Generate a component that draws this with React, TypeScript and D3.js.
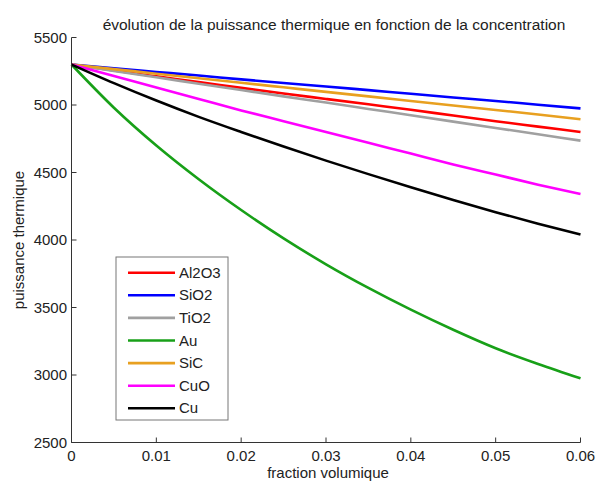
import React from "react";
import * as d3 from "d3";

const fractions = [0, 0.005, 0.01, 0.015, 0.02, 0.025, 0.03, 0.035, 0.04, 0.045, 0.05, 0.055, 0.06];

const al2o3 = [5300, 5255, 5212, 5170, 5127, 5085, 5045, 5005, 4965, 4922, 4880, 4840, 4800];
const sio2 = [5300, 5272, 5245, 5218, 5190, 5163, 5137, 5110, 5083, 5056, 5030, 5002, 4975];
const tio2 = [5300, 5252, 5205, 5158, 5111, 5064, 5018, 4971, 4924, 4877, 4830, 4783, 4736];
const au = [5300, 4980, 4700, 4450, 4222, 4012, 3820, 3645, 3484, 3335, 3198, 3082, 2975];
const sic = [5300, 5266, 5232, 5198, 5165, 5131, 5097, 5064, 5030, 4996, 4963, 4930, 4895];
const cuo = [5300, 5215, 5130, 5045, 4960, 4880, 4800, 4720, 4640, 4560, 4485, 4410, 4340];
const cu = [5300, 5162, 5033, 4912, 4800, 4692, 4588, 4488, 4390, 4296, 4206, 4121, 4040];

const seriesNames = ["Al2O3", "SiO2", "TiO2", "Au", "SiC", "CuO", "Cu"];
const seriesValues = [al2o3, sio2, tio2, au, sic, cuo, cu];
const seriesColors = ["#ff0000", "#0000ff", "#a0a0a0", "#18a018", "#e8a020", "#ff00ff", "#000000"];

const xTicks = [0, 0.01, 0.02, 0.03, 0.04, 0.05, 0.06];
const xTickLabels = ["0", "0.01", "0.02", "0.03", "0.04", "0.05", "0.06"];
const yTicks = [2500, 3000, 3500, 4000, 4500, 5000, 5500];

const title = "évolution de la puissance thermique en fonction de la concentration";
const xLabel = "fraction volumique";
const yLabel = "puissance thermique";

const W = 606;
const H = 485;
const left = 71.5;
const right = 580.5;
const top = 37.5;
const bottom = 442.5;
const FONT = "'Liberation Sans', Arial, Helvetica, sans-serif";

export default function App() {
  const x = d3.scaleLinear().domain([0, 0.06]).range([left, right]);
  const y = d3.scaleLinear().domain([2500, 5500]).range([bottom, top]);
  const line = d3
    .line<number>()
    .x((_, i) => x(fractions[i]))
    .y((d) => y(d))
    .curve(d3.curveMonotoneX);

  const legX = 116;
  const legY = 257;
  const legW = 112;
  const legH = 163;
  const rowH = 22.6;

  return (
    <svg
      width={W}
      height={H}
      style={{ position: "absolute", left: 0, top: 0, background: "#fff" }}
      fontFamily={FONT}
    >
      <rect x={0} y={0} width={W} height={H} fill="#fff" />
      <text x={334} y={30} textAnchor="middle" fontSize={15.5} fill="#222">
        {title}
      </text>

      {/* series */}
      {seriesValues.map((vals, i) => (
        <path
          key={seriesNames[i]}
          d={line(vals) || ""}
          fill="none"
          stroke={seriesColors[i]}
          strokeWidth={2.6}
          strokeLinejoin="round"
        />
      ))}

      {/* axes */}
      <line x1={left} x2={right} y1={bottom} y2={bottom} stroke="#333" strokeWidth={1} />
      <line x1={left} x2={left} y1={top} y2={bottom} stroke="#333" strokeWidth={1} />
      {xTicks.map((t, i) => (
        <g key={"xt" + i}>
          <line x1={x(t)} x2={x(t)} y1={bottom} y2={bottom - 5} stroke="#333" />
          <text x={x(t)} y={461} textAnchor="middle" fontSize={15} fill="#222">
            {xTickLabels[i]}
          </text>
        </g>
      ))}
      {yTicks.map((t) => (
        <g key={"yt" + t}>
          <line x1={left} x2={left + 5} y1={y(t)} y2={y(t)} stroke="#333" />
          <text x={67} y={y(t) + 5} textAnchor="end" fontSize={15} fill="#222">
            {t}
          </text>
        </g>
      ))}
      <text x={328} y={478} textAnchor="middle" fontSize={15} fill="#222">
        {xLabel}
      </text>
      <text
        transform={`translate(24, ${(top + bottom) / 2}) rotate(-90)`}
        textAnchor="middle"
        fontSize={15}
        fill="#222"
      >
        {yLabel}
      </text>

      {/* legend */}
      <rect x={legX} y={legY} width={legW} height={legH} fill="#fff" stroke="#777" strokeWidth={1} />
      {seriesNames.map((name, i) => {
        const cy = legY + 15.7 + i * rowH;
        return (
          <g key={"lg" + name}>
            <line x1={128} x2={175} y1={cy} y2={cy} stroke={seriesColors[i]} strokeWidth={2.6} />
            <text x={179} y={cy + 5} fontSize={15} fill="#222">
              {name}
            </text>
          </g>
        );
      })}
    </svg>
  );
}
